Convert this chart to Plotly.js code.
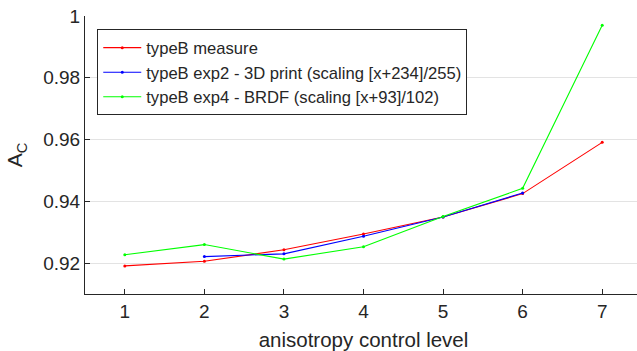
<!DOCTYPE html>
<html>
<head>
<meta charset="utf-8">
<script src="https://cdn.plot.ly/plotly-3.0.1.min.js"></script>
<style>
html,body{margin:0;padding:0;overflow:hidden;background:#fff;}
#chart{width:642px;height:351px;}
</style>
</head>
<body>
<div id="chart"></div>
<script>
const levels = [1, 2, 3, 4, 5, 6, 7];
const measure = [0.9191, 0.9206, 0.9243, 0.9294, 0.9349, 0.9425, 0.9591];
const exp2Levels = [2, 3, 4, 5, 6];
const exp2 = [0.9221, 0.9230, 0.9287, 0.9349, 0.9427];
const exp4 = [0.9227, 0.9260, 0.9213, 0.9253, 0.9351, 0.9442, 0.9970];
const names = [
  'typeB measure',
  'typeB exp2 - 3D print (scaling [x+234]/255)',
  'typeB exp4 - BRDF (scaling [x+93]/102)'
];
const yTicks = [0.92, 0.94, 0.96, 0.98, 1];
const yTickText = ['0.92', '0.94', '0.96', '0.98', '1'];

const ink = '#262626';
const font = 'Liberation Sans, Arial, sans-serif';

function tr(x, y, name, color) {
  return {
    x: x, y: y, name: name, type: 'scatter', mode: 'lines+markers',
    line: {color: color, width: 1.1},
    marker: {color: color, size: 3}
  };
}

const data = [
  tr(levels, measure, names[0], '#ff0000'),
  tr(exp2Levels, exp2, names[1], '#0000ff'),
  tr(levels, exp4, names[2], '#00ff00')
];

const layout = {
  width: 642, height: 351,
  margin: {l: 85, r: 0, t: 16, b: 57},
  paper_bgcolor: '#fff', plot_bgcolor: '#fff',
  font: {family: font, color: ink, size: 18},
  showlegend: true,
  legend: {
    x: 0.022, y: 0.952, xanchor: 'left', yanchor: 'top',
    bgcolor: '#fff', bordercolor: ink, borderwidth: 1,
    font: {family: font, size: 16.6, color: ink},
    itemwidth: 38,
    tracegroupgap: 0
  },
  xaxis: {
    range: [0.5, 7.5],
    tickvals: levels, ticktext: levels.map(String),
    ticks: 'inside', ticklen: 5, tickcolor: ink, tickwidth: 1,
    showline: true, linecolor: ink, linewidth: 1,
    showgrid: false, zeroline: false,
    tickfont: {family: font, size: 19, color: ink},
    title: {text: 'anisotropy control level', font: {family: font, size: 20.5, color: ink}, standoff: 14},
    automargin: false
  },
  yaxis: {
    range: [0.91, 1],
    tickvals: yTicks, ticktext: yTickText,
    ticks: 'inside', ticklen: 5, tickcolor: ink, tickwidth: 1,
    showline: true, linecolor: ink, linewidth: 1,
    showgrid: true, gridcolor: '#e3e3e3', gridwidth: 1,
    zeroline: false,
    tickfont: {family: font, size: 19, color: ink},
    title: {text: 'A<sub>C</sub>', font: {family: font, size: 21, color: ink}, standoff: 14},
    automargin: false
  }
};

Plotly.newPlot('chart', data, layout, {displayModeBar: false, staticPlot: true});
</script>
</body>
</html>
